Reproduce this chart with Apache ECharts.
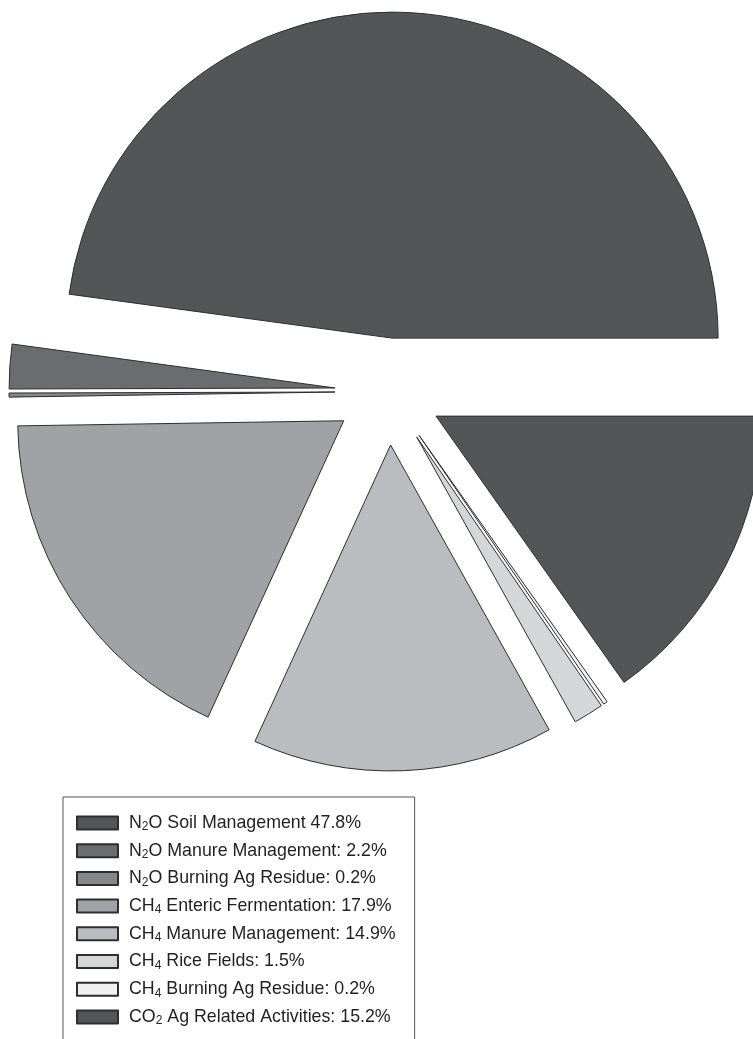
<!DOCTYPE html>
<html>
<head>
<meta charset="utf-8">
<script src="https://cdn.jsdelivr.net/npm/echarts@6/dist/echarts.min.js"></script>
<style>
  html, body { margin: 0; padding: 0; background: #ffffff; }
  #chart { width: 753px; height: 1039px; }
</style>
</head>
<body>
<div id="chart"></div>
<script>
// Agricultural emission sources (share of total, %)
const gases = ['N2O', 'N2O', 'N2O', 'CH4', 'CH4', 'CH4', 'CH4', 'CO2'];
const sources = [
  'Soil Management',
  'Manure Management:',
  'Burning Ag Residue:',
  'Enteric Fermentation:',
  'Manure Management:',
  'Rice Fields:',
  'Burning Ag Residue:',
  'Ag Related Activities:'
];
const shares = [47.8, 2.2, 0.2, 17.9, 14.9, 1.5, 0.2, 15.2];
const colors = ['#545557', '#6b6c6f', '#86878a', '#a1a2a5', '#bbbcbf', '#d5d6d8', '#f0f0f0', '#545557'];

const names = shares.map((v, i) => gases[i] + ' ' + sources[i] + ' ' + v + '%');

// split a formula like "N2O" into rich-text pieces with subscript digits
function formula(g) {
  return g.replace(/([A-Za-z]+)(\d*)/g, (m, letters, digits) =>
    '{n|' + letters + '}' + (digits ? '{s|' + digits + '}' : ''));
}

const chart = echarts.init(document.getElementById('chart'), null, { renderer: 'canvas' });

chart.setOption({
  animation: false,
  backgroundColor: '#ffffff',
  legend: {
    orient: 'vertical',
    left: 63,
    top: 797,
    height: 400,
    padding: [17, 19, 40, 13],
    itemWidth: 41,
    itemHeight: 13,
    itemGap: 8.7,
    backgroundColor: '#ffffff',
    borderColor: '#555555',
    borderWidth: 1,
    selectedMode: false,
    icon: 'rect',
    data: names,
    formatter: function (name) {
      const i = names.indexOf(name);
      return formula(gases[i]) + '{n| ' + sources[i] + ' ' + shares[i] + '%}';
    },
    textStyle: {
      padding: [0, 0, 0, 6],
      rich: {
        n: { fontFamily: 'Liberation Sans, Arial, sans-serif', fontSize: 17.8, color: '#231f20', lineHeight: 20 },
        s: { fontFamily: 'Liberation Sans, Arial, sans-serif', fontSize: 12, color: '#231f20', lineHeight: 3, verticalAlign: 'bottom' }
      }
    }
  },
  series: [{
    type: 'pie',
    center: [388.5, 391.5],
    radius: 326,
    startAngle: 0,
    clockwise: false,
    selectedMode: 'multiple',
    selectedOffset: 53.5,
    avoidLabelOverlap: false,
    label: { show: false },
    labelLine: { show: false },
    emphasis: { disabled: true },
    itemStyle: { borderColor: '#2e2e2e', borderWidth: 1 },
    data: shares.map((v, i) => ({
      name: names[i],
      value: v,
      selected: true,
      itemStyle: { color: colors[i] }
    }))
  }]
});
</script>
</body>
</html>
